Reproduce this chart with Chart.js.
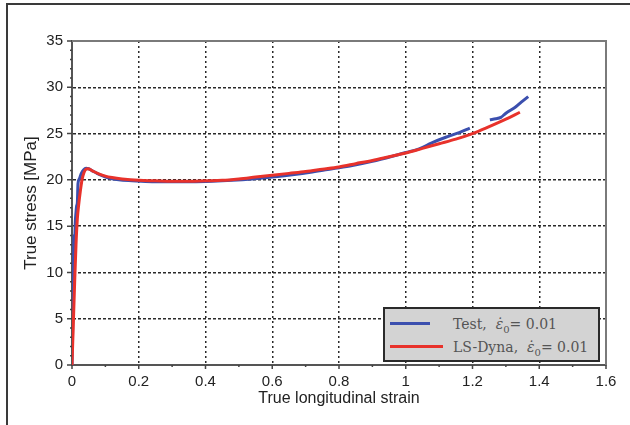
<!DOCTYPE html>
<html>
<head>
<meta charset="utf-8">
<script src="https://cdn.jsdelivr.net/npm/chart.js@4.4.1/dist/chart.umd.min.js"></script>
<style>
    html, body { margin: 0; padding: 0; background: #fff; }
    #wrap { position: relative; width: 630px; height: 425px; }
    #legend {
        position: absolute; left: 383px; top: 307px; width: 213px; height: 51px;
        background: #d3d3d3; border: 2px solid #2a2a2a;
        font-family: "DejaVu Serif", "Liberation Serif", serif; font-size: 14px; color: #555;
    }
    .swatch { position: absolute; left: 5px; height: 3px; }
    .label { position: absolute; left: 68px; white-space: nowrap; line-height: 18px; }
    .label sub { font-size: 10px; }
</style>
</head>
<body>
<div id="wrap">
    <canvas id="stressChart" width="630" height="425"></canvas>
    <div id="legend">
        <div class="swatch" style="top:13px;width:40px;background:#3b4fae"></div>
        <div class="label" style="top:6px">Test,&nbsp; <i>ε̇</i><sub>0</sub>= 0.01</div>
        <div class="swatch" style="top:36px;width:53px;background:#e8322b"></div>
        <div class="label" style="top:29px">LS-Dyna,&nbsp; <i>ε̇</i><sub>0</sub>= 0.01</div>
    </div>
</div>
<script>
// Test curve (blue), null = gap in the measured data
const testStrain = [0, 0.002, 0.004, 0.006, 0.008, 0.010, 0.012, 0.014, 0.016, 0.018, 0.022, 0.028, 0.035, 0.042,
    0.05, 0.06, 0.075, 0.09, 0.11, 0.14, 0.18, 0.24, 0.3, 0.36, 0.42, 0.48, 0.54, 0.6, 0.66, 0.72, 0.78, 0.84,
    0.9, 0.96, 1.0, 1.04, 1.078, 1.12, 1.16, 1.192, 1.22, 1.252, 1.27, 1.285, 1.30, 1.33, 1.35, 1.367];
const testStress = [0, 4, 9, 14, 13.5, 15.5, 16.5, 17.2, 17.5, 19.6, 20.1, 20.7, 21.1, 21.25,
    21.2, 21.0, 20.7, 20.45, 20.2, 20.0, 19.9, 19.8, 19.8, 19.8, 19.85, 19.95, 20.1, 20.3, 20.55, 20.85, 21.2, 21.55,
    22.0, 22.55, 22.95, 23.35, 24.0, 24.6, 25.1, 25.6, null, 26.5, 26.6, 26.75, 27.2, 27.9, 28.5, 29.0];

// LS-Dyna curve (red)
const dynaStrain = [0, 0.004, 0.008, 0.012, 0.016, 0.02, 0.025, 0.03, 0.036, 0.042, 0.048, 0.055, 0.065, 0.08,
    0.1, 0.12, 0.15, 0.2, 0.25, 0.3, 0.35, 0.4, 0.45, 0.5, 0.55, 0.6, 0.65, 0.7, 0.75, 0.8, 0.85, 0.9, 0.95,
    1.0, 1.05, 1.1, 1.15, 1.2, 1.25, 1.3, 1.342];
const dynaStress = [0, 4.5, 9, 13, 15.8, 17.3, 18.8, 20.0, 20.8, 21.15, 21.2, 21.1, 20.9, 20.65,
    20.4, 20.25, 20.1, 19.95, 19.9, 19.85, 19.85, 19.9, 19.95, 20.1, 20.3, 20.5, 20.7, 20.9, 21.15, 21.4, 21.75, 22.1, 22.5,
    22.9, 23.4, 23.9, 24.4, 25.0, 25.75, 26.55, 27.3];

const xMin = 0, xMax = 1.6, xStep = 0.2;
const yMin = 0, yMax = 35, yStep = 5;

const toPoints = (xs, ys) => xs.map((x, i) => ({ x: x, y: ys[i] }));

// grid hidden on the box edges, those are drawn solid
const gridColor = (ctx, lo, hi) => {
    const v = ctx.tick ? ctx.tick.value : 0;
    return (Math.abs(v - lo) < 1e-6 || Math.abs(v - hi) < 1e-6) ? 'rgba(0,0,0,0)' : '#2a2a2a';
};

const axisMarks = {
    id: 'axisMarks',
    afterDraw(chart) {
        const { ctx, chartArea: a, scales: { x, y } } = chart;
        ctx.save();
        // outer frame of the figure
        ctx.strokeStyle = '#3a3a3a';
        ctx.lineWidth = 2;
        ctx.beginPath();
        ctx.moveTo(7, 425); ctx.lineTo(7, 4); ctx.lineTo(630, 4);
        ctx.stroke();
        // top and right edge of the axes box
        ctx.strokeStyle = '#7a7a7a';
        ctx.beginPath();
        ctx.moveTo(a.left, a.top); ctx.lineTo(a.right, a.top); ctx.lineTo(a.right, a.bottom);
        ctx.stroke();
        // major + minor tick marks
        ctx.strokeStyle = '#444';
        ctx.lineWidth = 1.5;
        ctx.beginPath();
        for (let i = 0; i <= 16; i++) {
            const px = x.getPixelForValue(i / 10);
            ctx.moveTo(px, a.bottom);
            ctx.lineTo(px, a.bottom + (i % 2 ? 2 : 4));
        }
        for (let v = 0; v <= 35; v++) {
            const py = y.getPixelForValue(v);
            ctx.moveTo(a.left, py);
            ctx.lineTo(a.left - (v % 5 ? 2 : 5), py);
        }
        ctx.stroke();
        ctx.restore();
    }
};

const ctx = document.getElementById('stressChart').getContext('2d');
const stressChart = new Chart(ctx, {
    type: 'line',
    data: {
        datasets: [
            {
                label: 'LS-Dyna',
                data: toPoints(dynaStrain, dynaStress),
                borderColor: '#e8322b',
                borderWidth: 3,
                pointRadius: 0,
                cubicInterpolationMode: 'monotone',
                order: 1
            },
            {
                label: 'Test',
                data: toPoints(testStrain, testStress),
                borderColor: '#3b4fae',
                borderWidth: 3,
                pointRadius: 0,
                spanGaps: false,
                cubicInterpolationMode: 'monotone',
                order: 2
            }
        ]
    },
    options: {
        responsive: false,
        animation: false,
        layout: { padding: { left: 21, top: 41, right: 24, bottom: 17 } },
        plugins: { legend: { display: false }, tooltip: { enabled: false } },
        scales: {
            x: {
                type: 'linear',
                min: xMin,
                max: xMax,
                afterFit: s => { s.height = 43; },
                ticks: {
                    stepSize: xStep,
                    padding: 8,
                    color: '#222',
                    font: { family: 'Arial, "Liberation Sans", sans-serif', size: 15 },
                    callback: v => String(+v.toFixed(1))
                },
                grid: { color: c => gridColor(c, xMin, xMax), lineWidth: 1.5, drawTicks: false },
                border: { color: '#555', width: 2, dash: [2, 3] },
                title: {
                    display: true,
                    text: 'True longitudinal strain',
                    color: '#222',
                    padding: 0,
                    font: { family: 'Arial, "Liberation Sans", sans-serif', size: 16 }
                }
            },
            y: {
                type: 'linear',
                min: yMin,
                max: yMax,
                afterFit: s => { s.width = 51; },
                ticks: {
                    stepSize: yStep,
                    padding: 9,
                    color: '#222',
                    font: { family: 'Arial, "Liberation Sans", sans-serif', size: 15 }
                },
                grid: { color: c => gridColor(c, yMin, yMax), lineWidth: 1.5, drawTicks: false },
                border: { color: '#555', width: 2, dash: [3, 2] },
                title: {
                    display: true,
                    text: 'True stress [MPa]',
                    color: '#222',
                    padding: { top: 0, bottom: 0 },
                    font: { family: 'Arial, "Liberation Sans", sans-serif', size: 17 }
                }
            }
        }
    },
    plugins: [axisMarks]
});
</script>
</body>
</html>
